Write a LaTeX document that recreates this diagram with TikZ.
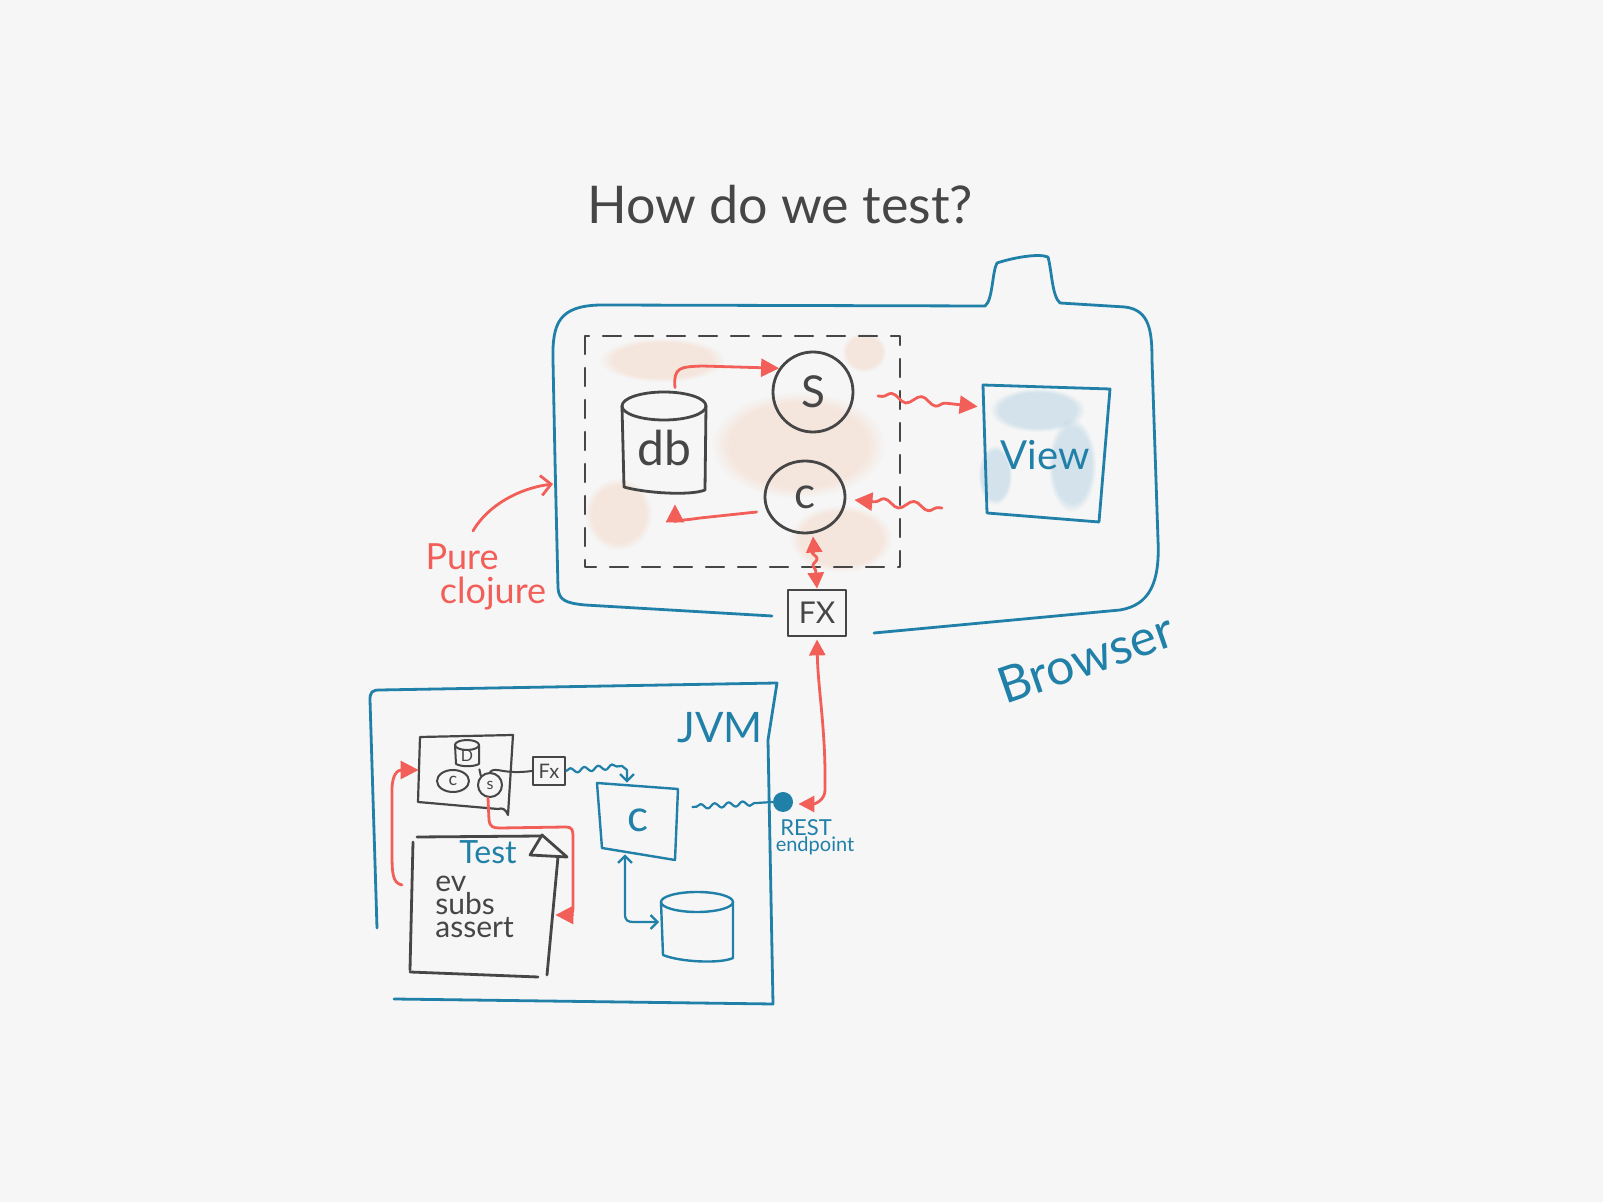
\documentclass[tikz,border=0pt]{standalone}
\usepackage{fontspec}
\setmainfont{Lato}
\usetikzlibrary{arrows.meta,decorations.pathmorphing,shapes.geometric,fadings,calc}
\definecolor{bgc}{RGB}{246,246,246}
\definecolor{bl}{RGB}{32,128,168}
\definecolor{rd}{RGB}{242,94,88}
\definecolor{gr}{RGB}{70,70,70}
\definecolor{og}{RGB}{245,175,135}
\definecolor{lb}{RGB}{110,170,205}
\tikzset{
  bline/.style={draw=bl, line width=1.4pt},
  gline/.style={draw=gr, line width=1.4pt},
  rline/.style={draw=rd, line width=1.4pt},
  rtip/.style={-{Triangle[length=9pt,width=9pt]}},
  rtips/.style={{Triangle[length=8pt,width=8pt]}-{Triangle[length=8pt,width=8pt]}},
  otip/.style={-{Straight Barb[length=5pt,width=10pt]}},
  btip/.style={-{Straight Barb[length=3.5pt,width=7pt]}},
  btips/.style={{Straight Barb[length=3.5pt,width=7pt]}-{Straight Barb[length=3.5pt,width=7pt]}},
  wave/.style={decorate, decoration={snake, amplitude=2pt, segment length=15pt, pre length=2pt, post length=10pt}},
  swave/.style={decorate, decoration={snake, amplitude=1.2pt, segment length=7pt, pre length=2pt, post length=6pt}},
  fs/.style={font=\fontsize{#1}{#1}\selectfont},
  blob/.style={path fading=circle with fuzzy edge 20 percent},
}
\begin{document}
\begin{tikzpicture}[x=0.5pt,y=-0.5pt,line cap=round,line join=round]
\fill[bgc] (0,0) rectangle (1603,1202);
\useasboundingbox (0,0) rectangle (1603,1202);

% blurred background marks
\begin{scope}[opacity=0.22]
  \fill[og,blob] (600,338) rectangle (725,382);
  \fill[og,blob] (712,392) rectangle (885,498);
  \fill[og,blob] (585,478) rectangle (652,550);
  \fill[og,blob] (790,505) rectangle (892,572);
  \fill[og,blob] (842,332) rectangle (886,372);
\end{scope}
\begin{scope}[opacity=0.25]
  \fill[lb,blob] (990,388) rectangle (1085,432);
  \fill[lb,blob] (978,445) rectangle (1012,505);
  \fill[lb,blob] (1048,418) rectangle (1096,512);
\end{scope}

% title
\node[fs=26, text=gr, anchor=base] (title) at (780,224) {How do we test?};

% browser outline
\draw[bline] (772,616) -- (585,605) .. controls (565,603) and (559,600) .. (558,588)
  -- (555,460) -- (553,360) .. controls (552,322) and (560,306) .. (600,305)
  -- (985,306) .. controls (993,300) and (992,272) .. (997,263)
  .. controls (1012,258) and (1038,253) .. (1048,257)
  .. controls (1052,272) and (1052,296) .. (1060,303) -- (1125,307)
  .. controls (1150,310) and (1152,332) .. (1152,360) -- (1158,540)
  .. controls (1160,582) and (1150,605) .. (1120,610) -- (874,633);
\node[fs=25, text=bl, rotate=19] (browser) at (1086,658) {Browser};

% dashed pure area
\draw[gline, line width=1.2pt, dash pattern=on 9pt off 7pt] (585,336) rectangle (900,567);

% db cylinder
\node[fs=24, text=gr, minimum width=42.5pt, minimum height=56pt] (db) at (664,448) {db};
\draw[gline] (664,406) ellipse [x radius=42, y radius=14];
\draw[gline] (622,406) -- (624,487) .. controls (645,493) and (690,496) .. (705,490) -- (706,406);

% S and c
\node[gline, circle, minimum size=40pt, inner sep=0pt, fs=22, text=gr] (s) at (813,392) {S};
\node[gline, ellipse, minimum width=40pt, minimum height=36pt, inner sep=0pt, fs=22, text=gr] (c) at (805,497) {c};

% view
\node[fs=20, text=bl, minimum width=61pt, minimum height=66pt] (view) at (1045,455) {View};
\draw[bline] (983,385) -- (1110,389) -- (1099,522) -- (987,513) -- cycle;

% big Fx
\node[gline, rectangle, minimum width=29pt, minimum height=23pt, inner sep=0pt, fs=15, text=gr] (fxb) at (817,613) {FX};

% red connectors in browser
\draw[rline, rtip] ($(db.north)+(11,-4)$) .. controls (673,366) and (682,367) .. (702,366) -- (s.145);
\draw[rline, rtip] ($(c.west)+(-7,15)$) -- (700,518) .. controls (680,521) and (675,520) .. ($(db.south)+(11,0)$);
\draw[rline, rtip, wave] (878,396) -- ($(view.north west)+(-6,18)$);
\draw[rline, rtip, wave] (942,508) -- ($(c.east)+(8,3)$);
\draw[rline, rtips, swave] ($(c.south)+(8,2)$) -- (fxb.north);

% pure clojure
\node[fs=18, text=rd] (pure) at (462,557) {Pure};
\node[fs=18, text=rd] (cloj) at (493,594) {clojure};
\coordinate (pc) at (553,484);
\draw[rline, otip] ($(pure.north)+(11,-6)$) .. controls (488,505) and (520,488) .. (pc);

% JVM box
\draw[bline] (377,928) -- (370,700) .. controls (370,692) and (372,690) .. (380,690)
  -- (777,683) -- (768,740) -- (773,1004) -- (394,999);
\node[fs=21, text=bl] (jvm) at (720,728) {JVM};

% REST endpoint
\node[circle, fill=bl, minimum size=10pt, inner sep=0pt] (dot) at (783,802) {};
\node[fs=11, text=bl, inner sep=0pt] (restl) at (806,828) {REST};
\node[fs=10, text=bl, inner sep=0pt] (endp) at (815,846) {endpoint};
\draw[rline, rtips] ($(fxb.south)+(0,2)$) .. controls (818,690) and (826,730) .. (825,790)
  .. controls (825,800) and (815,804) .. ($(dot.east)+(5,2)$);

% mini browser box
\node[minimum width=46pt, minimum height=38pt] (mini) at (465,773) {};
\draw[gline, line width=1.1pt] (420,737) -- (513,735) -- (508,815) .. controls (505,808) and (502,808) .. (498,809) -- (418,802) -- cycle;
\node[minimum width=12pt, minimum height=11pt, inner sep=0pt, fs=8, text=gr] (md) at (467,756) {D};
\draw[gline, line width=1pt] (467,745) ellipse [x radius=12, y radius=5];
\draw[gline, line width=1pt] (455,745) -- (456,764) .. controls (462,767) and (473,767) .. (479,764) -- (479,745);
\node[gline, line width=1pt, ellipse, minimum width=16pt, minimum height=11pt, inner sep=0pt, fs=9, text=gr] (mc) at (453,781) {c};
\node[gline, line width=1pt, circle, minimum size=12pt, inner sep=0pt, fs=8, text=gr] (ms) at (490,785) {s};
\draw[gline, line width=1pt] ($(md.south east)+(0,2)$) -- (ms.north west);
\node[gline, line width=1.1pt, rectangle, minimum width=16pt, minimum height=14pt, inner sep=0pt, fs=10, text=gr] (fxs) at (549,771) {Fx};
\draw[gline, line width=1pt] (ms.north) .. controls (496,766) and (502,775) .. (fxs.west);

% jvm c box
\node[minimum width=40pt, minimum height=37pt, fs=22, text=bl] (cbox) at (638,820) {c};
\draw[bline, line width=1.2pt] (597,783) -- (678,789) -- (675,860) -- (602,848) -- cycle;

% blue cylinder
\node[minimum width=35.5pt, minimum height=34pt] (cyl2) at (697,928) {};
\draw[bline, line width=1.2pt] (697,902) ellipse [x radius=36, y radius=10];
\draw[bline, line width=1.2pt] (661,902) -- (663,955) .. controls (680,962) and (720,964) .. (733,958) -- (733,902);

% blue connectors
\draw[bline, line width=1.1pt, btip] (fxs.east) decorate[decoration={snake, amplitude=1.2pt, segment length=7pt}] {-- (622,766)} -- (627,770) -- ($(cbox.north)+(-11,0)$);
\draw[bline, line width=1.1pt, swave] ($(cbox.east)+(14,-13)$) -- (dot.west);
\draw[bline, line width=1.1pt, btips] ($(cbox.south)+(-13,-3)$) -- (625,914) .. controls (625,921) and (628,922) .. (634,922) -- ($(cyl2.west)+(-2,-6)$);

% test box
\node[minimum width=72pt, minimum height=69pt] (test) at (485,905) {};
\draw[gline] (417,837) -- (542,836);
\draw[gline] (542,835) -- (567,857) -- (530,855) -- cycle;
\draw[gline] (558,857) -- (547,975);
\draw[gline] (410,972) -- (538,977);
\draw[gline] (413,842) -- (410,970);
\node[fs=16, text=bl] (testl) at (488,852) {Test};
\node[text=gr, anchor=north west, align=left, inner sep=0pt,
  font=\fontsize{15}{11.5}\selectfont] (code) at (435,876) {ev\\subs\\assert};

% red connectors in jvm
\draw[rline, rtip] (402,885) .. controls (392,883) and (392,872) .. (392,850) -- (392,790)
  .. controls (392,774) and (398,770) .. ($(mini.west)+(0,-3)$);
\draw[rline, rtip] ($(ms.south)+(-2,0)$) -- (489,820) .. controls (490,827) and (493,828) .. (500,828)
  -- (566,827) .. controls (572,827) and (573,830) .. (573,836) -- (573,908)
  .. controls (573,914) and (571,915) .. (566,915) -- ($(test.east)+(-2,10)$);
\end{tikzpicture}
\end{document}
